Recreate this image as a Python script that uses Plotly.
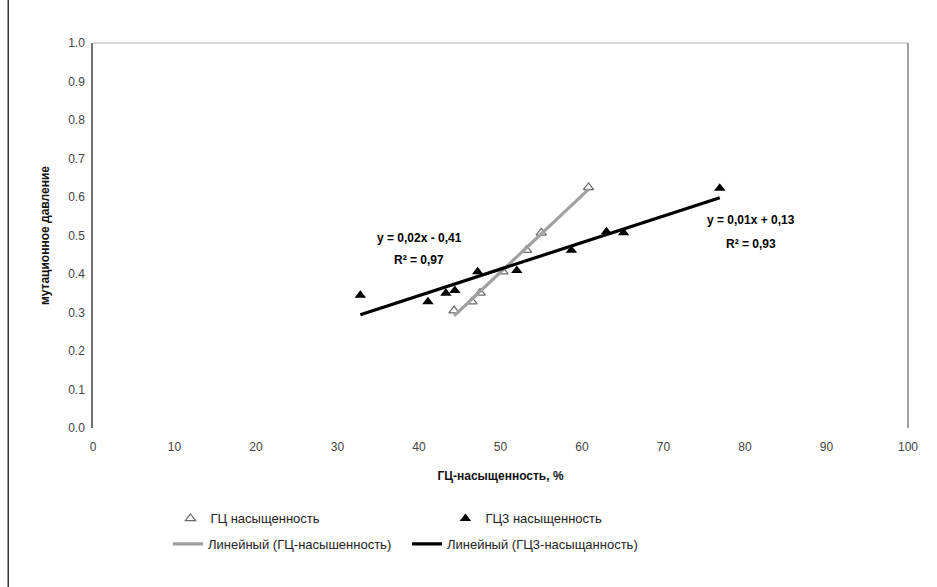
import numpy as np
import plotly.graph_objects as go

# ---- data ----
gc_x = [44.3, 46.5, 47.5, 50.3, 53.2, 55.0, 60.8]
gc_y = [0.305, 0.328, 0.351, 0.406, 0.462, 0.507, 0.625]

gc3_x = [32.8, 41.1, 43.3, 44.4, 47.2, 52.0, 58.7, 63.0, 65.1, 76.9]
gc3_y = [0.345, 0.328, 0.350, 0.357, 0.406, 0.409, 0.462, 0.510, 0.507, 0.623]

x_ticks = list(range(0, 101, 10))
y_ticks = [round(v * 0.1, 1) for v in range(0, 11)]

name_gc = "ГЦ насыщенность"
name_gc3 = "ГЦ3 насыщенность"
name_lin_gc = "Линейный (ГЦ-насышенность)"
name_lin_gc3 = "Линейный (ГЦ3-насыщанность)"

eq_gc = ["y = 0,02x - 0,41", "R² = 0,97"]
eq_gc3 = ["y = 0,01x + 0,13", "R² = 0,93"]

FONT = "Liberation Sans, Arial, sans-serif"


def trend(xs, ys):
    k, b = np.polyfit(xs, ys, 1)
    xr = np.array([min(xs), max(xs)])
    return xr, k * xr + b


fig = go.Figure()

fig.add_trace(go.Scatter(
    x=gc_x, y=gc_y, mode="markers", name=name_gc, legend="legend",
    marker=dict(symbol="triangle-up", size=9, color="white",
                line=dict(color="#6a6a6a", width=1.2)),
))
fig.add_trace(go.Scatter(
    x=gc3_x, y=gc3_y, mode="markers", name=name_gc3, legend="legend",
    marker=dict(symbol="triangle-up", size=10, color="black",
                line=dict(color="black", width=0)),
))

tx, ty = trend(gc_x, gc_y)
fig.add_trace(go.Scatter(x=tx, y=ty, mode="lines", name=name_lin_gc, legend="legend2",
                         line=dict(color="#a0a0a0", width=3.2)))
tx3, ty3 = trend(gc3_x, gc3_y)
fig.add_trace(go.Scatter(x=tx3, y=ty3, mode="lines", name=name_lin_gc3, legend="legend2",
                         line=dict(color="black", width=3.2)))

ann_font = dict(family=FONT, size=12, color="black")
for (txt, ax, ay) in [(eq_gc[0], 40.0, 0.493), (eq_gc[1], 40.0, 0.437),
                      (eq_gc3[0], 80.7, 0.540), (eq_gc3[1], 80.7, 0.477)]:
    fig.add_annotation(x=ax, y=ay, xref="x", yref="y", text="<b>" + txt + "</b>",
                       showarrow=False, font=ann_font, xanchor="center", yanchor="middle")

leg_font = dict(family=FONT, size=13, color="#222")
fig.update_layout(
    width=937, height=587,
    margin=dict(l=93, r=29, t=43, b=159),
    paper_bgcolor="white", plot_bgcolor="white",
    font=dict(family=FONT, size=12, color="#333"),
    showlegend=True,
    legend=dict(orientation="h", x=0.095, y=-0.196, xanchor="left", yanchor="top",
                entrywidth=230, font=leg_font, bgcolor="rgba(0,0,0,0)", itemwidth=30),
    legend2=dict(orientation="h", x=0.092, y=-0.262, xanchor="left", yanchor="top",
                 entrywidth=194, font=leg_font, bgcolor="rgba(0,0,0,0)", itemwidth=30),
    xaxis=dict(range=[0, 100], tickvals=x_ticks, ticktext=[str(v) for v in x_ticks],
               showgrid=False, zeroline=False, showline=False, ticks="",
               ticklabelstandoff=10,
               tickfont=dict(family=FONT, size=12, color="#444"),
               title=dict(text="<b>ГЦ-насыщенность, %</b>", standoff=18,
                          font=dict(family=FONT, size=12, color="#111"))),
    yaxis=dict(range=[0, 1], tickvals=y_ticks, ticktext=[f"{v:.1f}" for v in y_ticks],
               showgrid=False, zeroline=False, showline=True, linecolor="#707070",
               linewidth=1.5, mirror=False, ticks="", ticklabelstandoff=4,
               tickfont=dict(family=FONT, size=12, color="#444"),
               title=dict(text="<b>мутационное давление</b>", standoff=16,
                          font=dict(family=FONT, size=12, color="#111"))),
)

# plot-area frame: light top edge, grey right edge; page frame line at far left
fig.add_shape(type="line", xref="paper", yref="paper", x0=0, x1=1, y0=1, y1=1,
              line=dict(color="#d8d8d8", width=2))
fig.add_shape(type="line", xref="paper", yref="paper", x0=1, x1=1, y0=0, y1=1,
              line=dict(color="#808080", width=1.5))
fig.add_shape(type="line", xref="paper", yref="paper", x0=-0.104, x1=-0.104,
              y0=-0.413, y1=1.112, line=dict(color="#333", width=1.5))

fig.write_html("out.html")
